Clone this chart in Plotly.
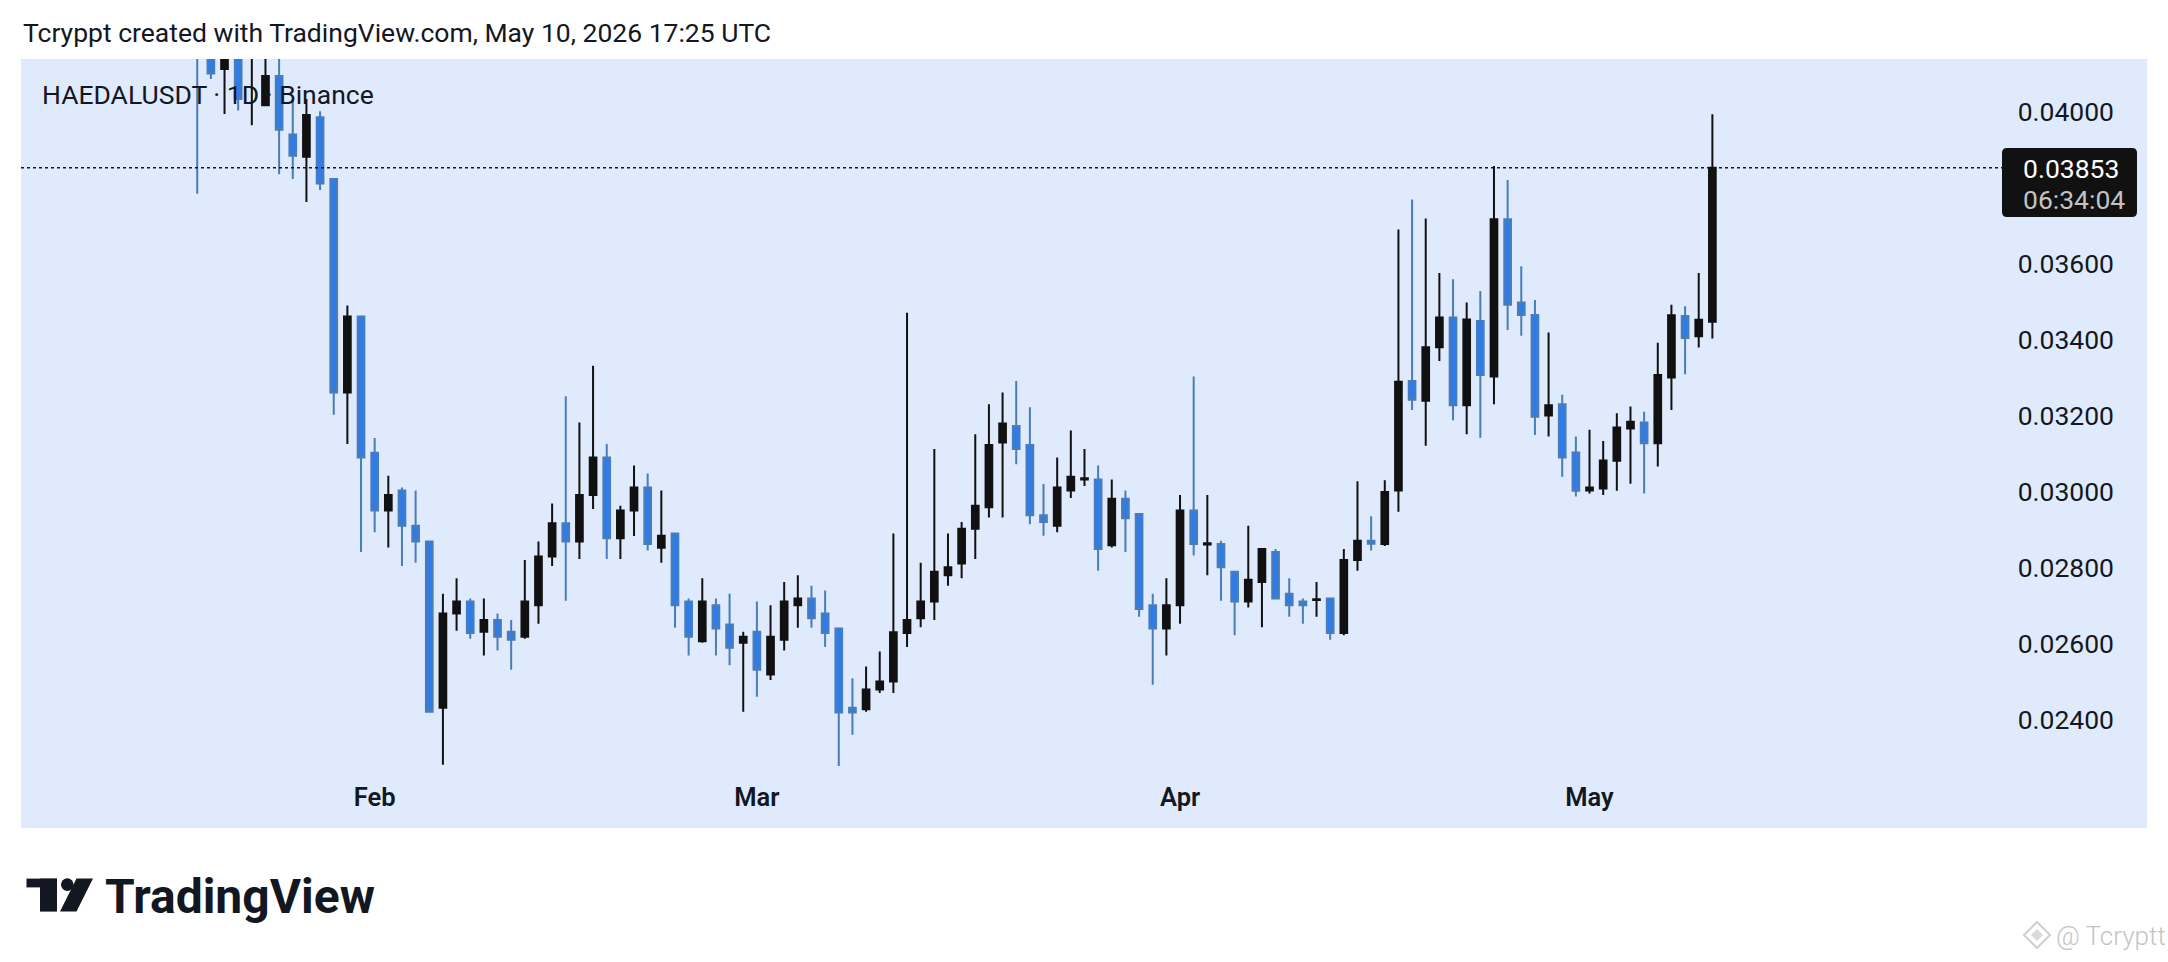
import pandas as pd
import plotly.graph_objects as go

# ---------------- data ----------------
dates = pd.date_range("2026-01-19", "2026-05-10", freq="D")

opens = [
    0.04400, 0.04180, 0.04113, 0.04220, 0.04160, 0.04018, 0.04095, 0.03941, 0.03882, 0.03986,
    0.03824, 0.03262, 0.03462,
    0.03103, 0.02951, 0.03004, 0.02911, 0.02870, 0.02432, 0.02680, 0.02712, 0.02632, 0.02663,
    0.02632, 0.02619, 0.02702, 0.02830, 0.02918, 0.02870, 0.02992, 0.03091, 0.02878, 0.02951,
    0.03012, 0.02853, 0.02891, 0.02712, 0.02607, 0.02702, 0.02651, 0.02603,
    0.02632, 0.02520, 0.02611, 0.02702, 0.02720, 0.02680, 0.02641, 0.02432, 0.02428, 0.02480,
    0.02501, 0.02629, 0.02668, 0.02712, 0.02781, 0.02812, 0.02903, 0.02960, 0.03130, 0.03174,
    0.03124, 0.02939, 0.02911, 0.03004, 0.03033, 0.03033, 0.02860, 0.02982, 0.02942, 0.02702,
    0.02641,
    0.02702, 0.02951, 0.02862, 0.02863, 0.02790, 0.02712, 0.02763, 0.02842, 0.02732, 0.02712,
    0.02716, 0.02720, 0.02629, 0.02821, 0.02872, 0.02863, 0.03004, 0.03292, 0.03240, 0.03381,
    0.03459, 0.03228, 0.03450, 0.03304, 0.03718, 0.03499, 0.03466, 0.03201, 0.03231, 0.03104,
    0.03004, 0.03009, 0.03082, 0.03167, 0.03183, 0.03128, 0.03301, 0.03463, 0.03410, 0.03448,
]
highs = [
    0.04500, 0.04250, 0.04280, 0.04300, 0.04300, 0.04200, 0.04200, 0.04034, 0.04034, 0.04002,
    0.03826, 0.03491, 0.03462,
    0.03142, 0.03043, 0.03012, 0.03004, 0.02870, 0.02732, 0.02773, 0.02720, 0.02720, 0.02680,
    0.02663, 0.02821, 0.02870, 0.02970, 0.03252, 0.03183, 0.03332, 0.03126, 0.02964, 0.03070,
    0.03049, 0.03004, 0.02893, 0.02720, 0.02773, 0.02720, 0.02732, 0.02632,
    0.02712, 0.02702, 0.02763, 0.02781, 0.02753, 0.02741, 0.02641, 0.02510, 0.02541, 0.02580,
    0.02891, 0.03472, 0.02814, 0.03113, 0.02891, 0.02921, 0.03152, 0.03231, 0.03262, 0.03292,
    0.03223, 0.03021, 0.03091, 0.03162, 0.03113, 0.03070, 0.03033, 0.03004, 0.02944, 0.02732,
    0.02773,
    0.02992, 0.03304, 0.02992, 0.02872, 0.02792, 0.02911, 0.02852, 0.02850, 0.02773, 0.02720,
    0.02763, 0.02722, 0.02850, 0.03028, 0.02936, 0.03031, 0.03691, 0.03770, 0.03720, 0.03576,
    0.03560, 0.03499, 0.03529, 0.03858, 0.03821, 0.03594, 0.03505, 0.03420, 0.03256, 0.03146,
    0.03164, 0.03134, 0.03207, 0.03225, 0.03211, 0.03393, 0.03493, 0.03489, 0.03576, 0.03994,
]
lows = [
    0.03785, 0.04087, 0.03995, 0.04004, 0.03965, 0.04018, 0.03836, 0.03824, 0.03763, 0.03795,
    0.03203, 0.03126, 0.02842,
    0.02894, 0.02854, 0.02805, 0.02814, 0.02420, 0.02282, 0.02635, 0.02614, 0.02570, 0.02583,
    0.02532, 0.02614, 0.02653, 0.02805, 0.02714, 0.02824, 0.02955, 0.02824, 0.02824, 0.02884,
    0.02846, 0.02814, 0.02643, 0.02570, 0.02603, 0.02570, 0.02544, 0.02422,
    0.02461, 0.02505, 0.02583, 0.02643, 0.02643, 0.02592, 0.02279, 0.02361, 0.02422, 0.02471,
    0.02471, 0.02592, 0.02644, 0.02663, 0.02753, 0.02773, 0.02824, 0.02933, 0.02933, 0.03073,
    0.02915, 0.02885, 0.02894, 0.02984, 0.03016, 0.02793, 0.02854, 0.02842, 0.02672, 0.02493,
    0.02570,
    0.02653, 0.02833, 0.02781, 0.02714, 0.02623, 0.02696, 0.02644, 0.02717, 0.02672, 0.02653,
    0.02672, 0.02611, 0.02623, 0.02793, 0.02846, 0.02858, 0.02948, 0.03216, 0.03122, 0.03345,
    0.03189, 0.03152, 0.03143, 0.03231, 0.03426, 0.03411, 0.03150, 0.03146, 0.03040, 0.02988,
    0.02996, 0.02992, 0.03003, 0.03022, 0.02996, 0.03067, 0.03216, 0.03310, 0.03380, 0.03404,
]
closes = [
    0.04200, 0.04101, 0.04200, 0.04034, 0.04220, 0.04095, 0.03953, 0.03885, 0.03992, 0.03812,
    0.03262, 0.03462, 0.03091,
    0.02951, 0.02992, 0.02911, 0.02870, 0.02422, 0.02680, 0.02712, 0.02629, 0.02663, 0.02619,
    0.02611, 0.02712, 0.02830, 0.02918, 0.02870, 0.02992, 0.03091, 0.02878, 0.02951, 0.03012,
    0.02863, 0.02885, 0.02702, 0.02619, 0.02712, 0.02641, 0.02590, 0.02619,
    0.02532, 0.02619, 0.02712, 0.02720, 0.02668, 0.02629, 0.02420, 0.02420, 0.02480, 0.02501,
    0.02631, 0.02663, 0.02712, 0.02790, 0.02802, 0.02903, 0.02964, 0.03124, 0.03180, 0.03113,
    0.02939, 0.02921, 0.03012, 0.03040, 0.03036, 0.02850, 0.02982, 0.02931, 0.02692, 0.02641,
    0.02702,
    0.02951, 0.02863, 0.02865, 0.02802, 0.02712, 0.02769, 0.02850, 0.02720, 0.02702, 0.02702,
    0.02718, 0.02629, 0.02821, 0.02872, 0.02864, 0.03000, 0.03290, 0.03243, 0.03381, 0.03459,
    0.03228, 0.03454, 0.03308, 0.03718, 0.03493, 0.03466, 0.03198, 0.03228, 0.03091, 0.03003,
    0.03012, 0.03083, 0.03170, 0.03185, 0.03128, 0.03308, 0.03465, 0.03405, 0.03453, 0.03853,
]

price_ticks = [0.024, 0.026, 0.028, 0.030, 0.032, 0.034, 0.036, 0.040]
month_ticks = ["2026-02-01", "2026-03-01", "2026-04-01", "2026-05-01"]
month_labels = ["Feb", "Mar", "Apr", "May"]

title_text = "Tcryppt created with TradingView.com, May 10, 2026 17:25 UTC"
symbol_text = "HAEDALUSDT · 1D · Binance"
countdown_text = "06:34:04"
watermark_text = "@ Tcryptt"

# ---------------- layout helpers (pixel -> paper) ----------------
W, H = 2168, 962
def px(x):
    return x / W
def py(y):
    return 1 - y / H

PANE_L, PANE_R, PANE_T, PANE_B = 21, 2147, 59, 828
INK = "#131722"
PANE_BG = "#dfebfc"
FONT = "Roboto"

feb1 = pd.Timestamp("2026-02-01")
x_range = [feb1 + pd.Timedelta(days=-25.91), feb1 + pd.Timedelta(days=129.84)]
# price scale: 0.04 at y=112, 38 px per 0.001
def price_at(y):
    return 0.04 - (y - 112) / 38000.0
y_range = [price_at(PANE_B), price_at(PANE_T)]


def rounded_rect(x0, y0, x1, y1, r):
    """SVG path (paper coords) of a rounded rectangle given in pixels."""
    pts = [
        f"M {px(x0 + r)} {py(y0)}",
        f"L {px(x1 - r)} {py(y0)}",
        f"Q {px(x1)} {py(y0)} {px(x1)} {py(y0 + r)}",
        f"L {px(x1)} {py(y1 - r)}",
        f"Q {px(x1)} {py(y1)} {px(x1 - r)} {py(y1)}",
        f"L {px(x0 + r)} {py(y1)}",
        f"Q {px(x0)} {py(y1)} {px(x0)} {py(y1 - r)}",
        f"L {px(x0)} {py(y0 + r)}",
        f"Q {px(x0)} {py(y0)} {px(x0 + r)} {py(y0)}",
        "Z",
    ]
    return " ".join(pts)


fig = go.Figure()
fig.add_trace(go.Candlestick(
    x=dates, open=opens, high=highs, low=lows, close=closes,
    increasing=dict(line=dict(color="#111111", width=2), fillcolor="#111111"),
    decreasing=dict(line=dict(color="#4a7cb8", width=2), fillcolor="#2f7ce8"),
    showlegend=False, hoverinfo="skip",
))

last_close = closes[-1]

shapes = [
    # last-price dotted line
    dict(type="line", xref="paper", yref="y", x0=px(PANE_L), x1=px(2002),
         y0=last_close, y1=last_close, line=dict(color=INK, width=1.5, dash="dot")),
    # price label box
    dict(type="path", xref="paper", yref="paper", path=rounded_rect(2002, 148, 2137, 217, 5),
         fillcolor="#111111", line=dict(width=0)),
    # TradingView logo mark
    dict(type="rect", xref="paper", yref="paper", x0=px(26.5), x1=px(57),
         y0=py(887.4), y1=py(878.6), fillcolor=INK, line=dict(width=0)),
    dict(type="rect", xref="paper", yref="paper", x0=px(40), x1=px(57),
         y0=py(911.6), y1=py(878.6), fillcolor=INK, line=dict(width=0)),
    dict(type="circle", xref="paper", yref="paper", x0=px(61), x1=px(73.6),
         y0=py(890.9), y1=py(878.3), fillcolor=INK, line=dict(width=0)),
    dict(type="path", xref="paper", yref="paper",
         path=f"M {px(76.5)} {py(878.6)} L {px(93)} {py(878.6)} L {px(76.5)} {py(911.6)} L {px(60)} {py(911.6)} Z",
         fillcolor=INK, line=dict(width=0)),
    # watermark icon (diamond)
    dict(type="path", xref="paper", yref="paper",
         path=f"M {px(2037)} {py(922)} L {px(2050)} {py(935)} L {px(2037)} {py(948)} L {px(2024)} {py(935)} Z",
         fillcolor="rgba(0,0,0,0)", line=dict(color="#d0d0d0", width=2)),
    dict(type="path", xref="paper", yref="paper",
         path=f"M {px(2037)} {py(929)} L {px(2043)} {py(935)} L {px(2037)} {py(941)} L {px(2031)} {py(935)} Z",
         fillcolor="#dadada", line=dict(width=0)),
]

annotations = [
    dict(text=title_text, x=px(21), y=py(33), xref="paper", yref="paper",
         xanchor="left", yanchor="middle", showarrow=False,
         font=dict(family=FONT, size=26.5, color=INK)),
    dict(text=symbol_text, x=px(40), y=py(94), xref="paper", yref="paper",
         xanchor="left", yanchor="middle", showarrow=False,
         font=dict(family=FONT, size=26.5, color=INK)),
    dict(text=f"{last_close:.5f}", x=px(2021), y=py(168), xref="paper", yref="paper",
         xanchor="left", yanchor="middle", showarrow=False,
         font=dict(family=FONT, size=26.5, color="#ffffff")),
    dict(text=countdown_text, x=px(2021), y=py(199), xref="paper", yref="paper",
         xanchor="left", yanchor="middle", showarrow=False,
         font=dict(family=FONT, size=26.5, color="#c3c3c3")),
    dict(text="TradingView", x=px(103), y=py(896), xref="paper", yref="paper",
         xanchor="left", yanchor="middle", showarrow=False,
         font=dict(family=FONT, size=48, color=INK, weight=700)),
    dict(text=watermark_text, x=px(2054), y=py(936), xref="paper", yref="paper",
         xanchor="left", yanchor="middle", showarrow=False,
         font=dict(family=FONT, size=26, color="#c4c4c4", weight=300)),
]

fig.update_layout(
    width=W, height=H, autosize=False,
    margin=dict(l=0, r=0, t=0, b=0, pad=0),
    paper_bgcolor="#ffffff", plot_bgcolor=PANE_BG,
    showlegend=False,
    shapes=shapes, annotations=annotations,
    xaxis=dict(
        domain=[px(PANE_L), px(PANE_R)], type="date", range=x_range,
        rangeslider=dict(visible=False),
        tickvals=month_ticks, ticktext=month_labels,
        ticks="", showgrid=False, zeroline=False, showline=False,
        ticklabelposition="inside", ticklabelstandoff=14,
        tickfont=dict(family=FONT, size=25.5, color=INK, weight=600),
        fixedrange=True,
    ),
    yaxis=dict(
        domain=[py(PANE_B), py(PANE_T)], range=y_range, side="right",
        tickvals=price_ticks, tickformat=".5f",
        ticks="", showgrid=False, zeroline=False, showline=False,
        ticklabelposition="inside", ticklabelstandoff=30,
        tickfont=dict(family=FONT, size=26.5, color=INK),
        fixedrange=True,
    ),
)

fig.write_html(
    "out.html",
    config={"displayModeBar": False, "staticPlot": True},
    post_script="document.body.style.margin='0px';document.body.style.overflow='hidden';",
)
